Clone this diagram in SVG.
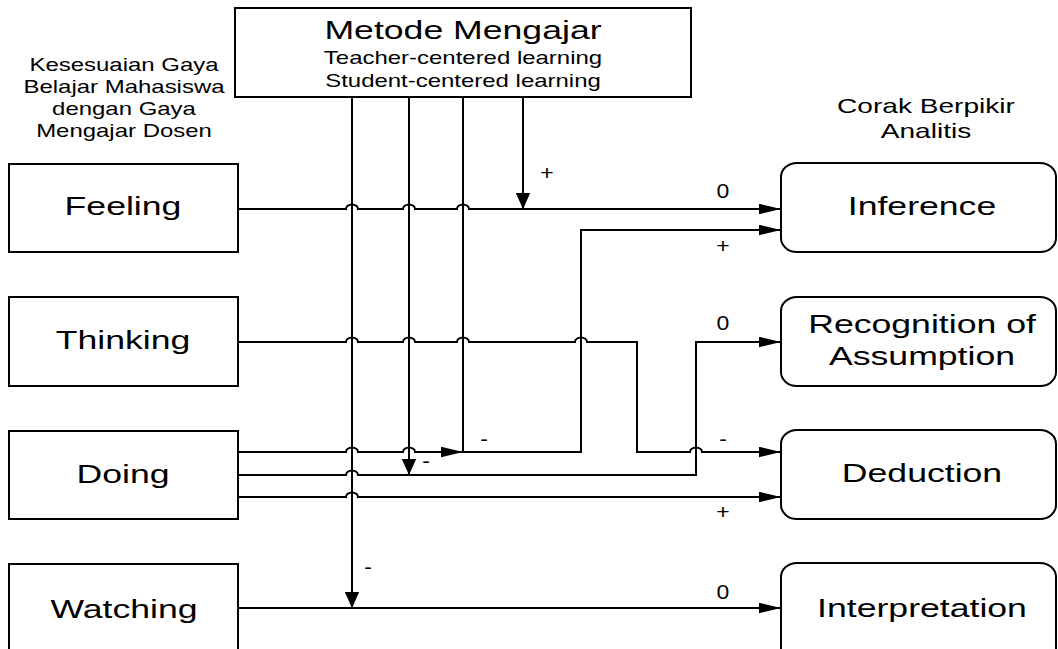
<svg xmlns="http://www.w3.org/2000/svg" width="1058" height="649" viewBox="0 0 1058 649">
<style>
.box{fill:#fff;stroke:#000;stroke-width:2}
.ln{fill:none;stroke:#000;stroke-width:2}
.ah{marker-end:url(#ah)}
.av{marker-end:url(#av)}
text{font-family:"Liberation Sans",Arial,sans-serif;fill:#000;text-anchor:middle}
.big{font-size:26px}
.sub{font-size:17.5px}
.cap{font-size:17.5px}
.cap2{font-size:20.5px}
.lbl{font-size:20px}
</style>
<defs>
<marker id="ah" markerWidth="22" markerHeight="11" refX="22" refY="5.5" orient="auto" markerUnits="userSpaceOnUse"><path d="M0,0.2 L22,5.5 L0,10.8z" fill="#000"/></marker>
<marker id="av" markerWidth="16" markerHeight="15" refX="16" refY="7.5" orient="auto" markerUnits="userSpaceOnUse"><path d="M0,0.3 L16,7.5 L0,14.7z" fill="#000"/></marker>
</defs>
<rect width="1058" height="649" fill="#fff"/>

<g id="captions">
<text class="cap" transform="translate(124,71) scale(1.37,1)">Kesesuaian Gaya</text>
<text class="cap" transform="translate(124,93) scale(1.37,1)">Belajar Mahasiswa</text>
<text class="cap" transform="translate(124,115) scale(1.37,1)">dengan Gaya</text>
<text class="cap" transform="translate(124,137) scale(1.37,1)">Mengajar Dosen</text>
<text class="cap2" transform="translate(926,113) scale(1.37,1)">Corak Berpikir</text>
<text class="cap2" transform="translate(926,138) scale(1.37,1)">Analitis</text>
</g>

<g id="connectors">
<path class="ln av" d="M352,97 V608"/>
<path class="ln av" d="M409,97 V475"/>
<path class="ln ah" d="M463,97 V452 H581 V230 H781"/>
<path class="ln av" d="M523,97 V209"/>
<path class="ln ah" d="M238,209 H346 A6 4.5 0 0 1 358,209 H403 A6 4.5 0 0 1 415,209 H457 A6 4.5 0 0 1 469,209 H781"/>
<path class="ln ah" d="M238,342 H346 A6 4.5 0 0 1 358,342 H403 A6 4.5 0 0 1 415,342 H457 A6 4.5 0 0 1 469,342 H575 A6 4.5 0 0 1 587,342 H637 V452 H690 A6 4.5 0 0 1 702,452 H781"/>
<path class="ln ah" d="M238,452 H346 A6 4.5 0 0 1 358,452 H403 A6 4.5 0 0 1 415,452 H463"/>
<path class="ln ah" d="M238,475 H346 A6 4.5 0 0 1 358,475 H696 V342 H781"/>
<path class="ln ah" d="M238,497 H346 A6 4.5 0 0 1 358,497 H781"/>
<path class="ln ah" d="M238,608 H781"/>
<text class="lbl" transform="translate(547,180) scale(1.15,1)">+</text>
<text class="lbl" transform="translate(723,198) scale(1.15,1)">0</text>
<text class="lbl" transform="translate(723,253) scale(1.15,1)">+</text>
<text class="lbl" transform="translate(723,330) scale(1.15,1)">0</text>
<text class="lbl" transform="translate(484,446) scale(1.15,1)">-</text>
<text class="lbl" transform="translate(426,468) scale(1.15,1)">-</text>
<text class="lbl" transform="translate(723,446) scale(1.15,1)">-</text>
<text class="lbl" transform="translate(723,519) scale(1.15,1)">+</text>
<text class="lbl" transform="translate(368,574) scale(1.15,1)">-</text>
<text class="lbl" transform="translate(723,599) scale(1.15,1)">0</text>
</g>

<g id="metode">
<rect class="box" x="235" y="8" width="456" height="89"/>
<text class="big" transform="translate(463,39) scale(1.37,1)">Metode Mengajar</text>
<text class="sub" transform="translate(463,64) scale(1.37,1)">Teacher-centered learning</text>
<text class="sub" transform="translate(463,87) scale(1.37,1)">Student-centered learning</text>
</g>

<g id="feeling">
<rect class="box" x="9" y="164" width="229" height="88"/>
<text class="big" transform="translate(123,215) scale(1.37,1)">Feeling</text>
</g>
<g id="thinking">
<rect class="box" x="9" y="297" width="229" height="89"/>
<text class="big" transform="translate(123,349) scale(1.37,1)">Thinking</text>
</g>
<g id="doing">
<rect class="box" x="9" y="431" width="229" height="88"/>
<text class="big" transform="translate(123,483) scale(1.37,1)">Doing</text>
</g>
<g id="watching">
<rect class="box" x="9" y="564" width="229" height="100"/>
<text class="big" transform="translate(124,618) scale(1.37,1)">Watching</text>
</g>

<g id="inference">
<rect class="box" x="781" y="163" width="275" height="89" rx="16" ry="14"/>
<text class="big" transform="translate(922,215) scale(1.37,1)">Inference</text>
</g>
<g id="recognition">
<rect class="box" x="781" y="297" width="275" height="89" rx="16" ry="14"/>
<text class="big" transform="translate(922,333) scale(1.37,1)">Recognition of</text>
<text class="big" transform="translate(922,365) scale(1.37,1)">Assumption</text>
</g>
<g id="deduction">
<rect class="box" x="781" y="430" width="275" height="89" rx="16" ry="14"/>
<text class="big" transform="translate(922,482) scale(1.37,1)">Deduction</text>
</g>
<g id="interpretation">
<rect class="box" x="781" y="563" width="275" height="100" rx="16" ry="14"/>
<text class="big" transform="translate(922,617) scale(1.37,1)">Interpretation</text>
</g>
</svg>
